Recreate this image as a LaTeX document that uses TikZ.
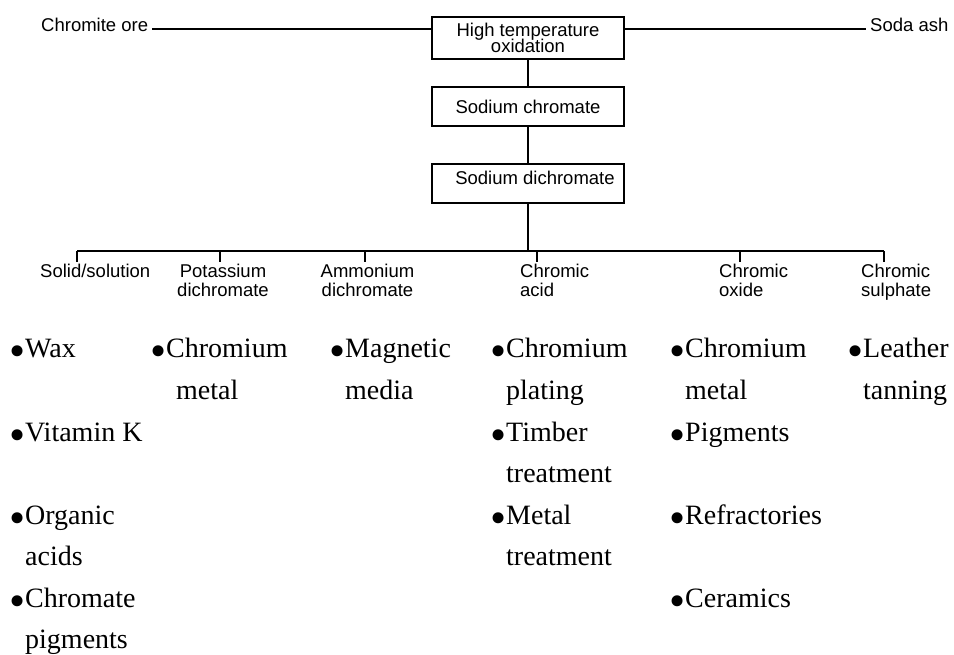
\documentclass[tikz,border=0pt]{standalone}
\usepackage{fontspec}
\setmainfont{Liberation Serif}
\newfontfamily\hv{Liberation Sans}
\newcommand\lns[2][l]{\begin{tabular}[t]{@{}#1@{}}#2\end{tabular}}
\newcommand\bul{\rlap{\hspace{-2.5pt}\raisebox{-9pt}{\fontsize{46}{46}\selectfont •}}\hspace{13pt}}
\begin{document}
\begin{tikzpicture}[x=1pt,y=-1pt,
  sans/.style={font=\hv\fontsize{18.5}{18}\selectfont, inner sep=0pt},
  proc/.style={draw, line width=1.2pt, sans, minimum width=192pt, minimum height=40pt},
  itm/.style={font=\fontsize{28}{41.5}\selectfont, inner sep=0pt, anchor=base west},
  conn/.style={line width=1.2pt}]
\useasboundingbox (0,0) rectangle (954,655);

% top row
\node[sans, anchor=base west] (ore) at (41,31.7) {Chromite ore};
\node[sans, anchor=base west] (soda) at (870,31.7) {Soda ash};
\node[proc, minimum height=42pt, text height=13.2pt, text depth=15.2pt] (box1) at (528,38)
  {\lns[c]{High temperature\\[-3.5pt]oxidation}};
\node[proc, minimum height=39pt] (box2) at (528,106.5) {Sodium chromate};
\node[proc, minimum height=39pt, text height=13.2pt, text depth=10.2pt] (box3) at (528,183.5)
  {\hspace*{14pt}Sodium dichromate};

\coordinate (t1) at (152,29);
\coordinate (t2) at (866,29);
\draw[conn] (t1) -- (t1 -| box1.west);
\draw[conn] (t2 -| box1.east) -- (t2);
\draw[conn] (box1) -- (box2);
\draw[conn] (box2) -- (box3);

% bus
\coordinate (busL) at (77,251);
\coordinate (busR) at (884,251);
\draw[conn] (box3.south) -- (box3.south |- busL);
\draw[conn] (busL) -- (busR);
\foreach \n/\x in {k1/77,k2/220,k3/365,k4/537,k5/740,k6/884}{
  \coordinate (\n) at (\x,262);
  \draw[conn] (\n |- busL) -- (\n);
}

% product labels
\node[sans, anchor=base west] (p1) at (40,278) {Solid/solution};
\node[sans, anchor=base] (p2) at (223,278) {\lns[c]{Potassium\\dichromate}};
\node[sans, anchor=base] (p3) at (367.5,278) {\lns[c]{Ammonium\\dichromate}};
\node[sans, anchor=base west] (p4) at (520,278) {\lns{Chromic\\acid}};
\node[sans, anchor=base west] (p5) at (719,278) {\lns{Chromic\\oxide}};
\node[sans, anchor=base west] (p6) at (861,278) {\lns{Chromic\\sulphate}};

% uses
\node[itm] (u11) at (12,358) {\bul Wax};
\node[itm] (u12) at (12,441) {\bul Vitamin K};
\node[itm] (u13) at (12,524) {\lns{\bul Organic\\\hspace*{13pt}acids}};
\node[itm] (u14) at (12,607) {\lns{\bul Chromate\\\hspace*{13pt}pigments}};

\node[itm] (u21) at (153,358) {\lns{\bul Chromium\\\hspace*{23pt}metal}};
\node[itm] (u31) at (332,358) {\lns{\bul Magnetic\\\hspace*{13pt}media}};

\node[itm] (u41) at (493,358) {\lns{\bul Chromium\\\hspace*{13pt}plating}};
\node[itm] (u42) at (493,441) {\lns{\bul Timber\\\hspace*{13pt}treatment}};
\node[itm] (u43) at (493,524) {\lns{\bul Metal\\\hspace*{13pt}treatment}};

\node[itm] (u51) at (672,358) {\lns{\bul Chromium\\\hspace*{13pt}metal}};
\node[itm] (u52) at (672,441) {\bul Pigments};
\node[itm] (u53) at (672,524) {\bul Refractories};
\node[itm] (u54) at (672,607) {\bul Ceramics};

\node[itm] (u61) at (850,358) {\lns{\bul Leather\\\hspace*{13pt}tanning}};
\end{tikzpicture}
\end{document}
